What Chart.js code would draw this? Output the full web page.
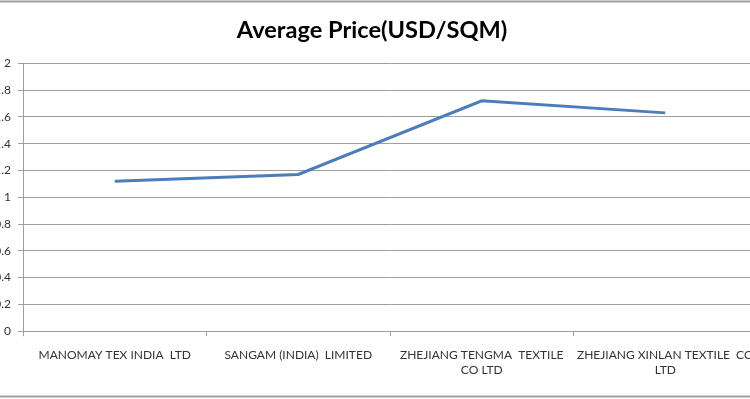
<!DOCTYPE html>
<html>
<head>
<meta charset="utf-8">
<script src="https://cdn.jsdelivr.net/npm/chart.js@4.4.0/dist/chart.umd.min.js"></script>
<style>
  html, body { margin: 0; padding: 0; background: #fff; overflow: hidden; }
  #wrap { position: absolute; left: -28px; top: 0; width: 800px; height: 399px; }
</style>
</head>
<body>
<div id="wrap"><canvas id="myChart"></canvas></div>
<script>
// values
const companies = [
    'MANOMAY TEX INDIA  LTD',
    'SANGAM (INDIA)  LIMITED',
    ['ZHEJIANG TENGMA  TEXTILE', 'CO LTD'],
    ['ZHEJIANG XINLAN TEXTILE  CO', 'LTD']
];
const avgPrice = [1.12, 1.17, 1.72, 1.63];
const chartTitle = 'Average Price(USD/SQM)';

const gridGray = '#9e9e9e';
const labelFont = { family: 'Lato', size: 12 };

// grey frame lines of the chart area (top and bottom border)
const frame = {
    id: 'frame',
    beforeDraw(chart) {
        const c = chart.ctx;
        c.save();
        c.fillStyle = '#fff';
        c.fillRect(0, 0, chart.width, chart.height);
        c.strokeStyle = '#a0a0a0';
        c.lineWidth = 2;
        c.beginPath();
        c.moveTo(0, 1.5); c.lineTo(chart.width, 1.5);
        c.moveTo(0, 396.5); c.lineTo(chart.width, 396.5);
        c.stroke();
        c.restore();
    }
};

let ctx = document.getElementById('myChart');
let myChart = new Chart(ctx, {
    type: 'line',
    data: {
        labels: companies,
        datasets: [{
            data: avgPrice,
            borderColor: '#4a7ebb',
            borderWidth: 3,
            pointRadius: 0,
            tension: 0,
            fill: false
        }]
    },
    options: {
        responsive: true,
        maintainAspectRatio: false,
        animation: false,
        layout: { padding: { left: 15, right: 15, top: 12, bottom: 10 } },
        plugins: {
            legend: { display: false },
            tooltip: { enabled: false },
            title: {
                display: true,
                text: chartTitle,
                color: '#000',
                font: { family: 'Lato', size: 23.6, weight: 'bold' },
                padding: { top: 4, bottom: 19 }
            }
        },
        scales: {
            x: {
                offset: true,
                grid: { offset: true, drawOnChartArea: false, drawTicks: true, tickLength: 5, color: gridGray },
                border: { color: gridGray },
                ticks: { color: '#333', font: labelFont, maxRotation: 0, autoSkip: false, padding: 12 }
            },
            y: {
                min: 0,
                max: 2,
                afterFit(scale) { scale.width = 36; },
                grid: { color: gridGray, tickLength: 5 },
                border: { color: gridGray },
                ticks: {
                    stepSize: 0.2,
                    color: '#333',
                    font: labelFont,
                    padding: 7,
                    callback: (v) => String(Number(v.toFixed(1)))
                }
            }
        }
    },
    plugins: [frame]
});
</script>
</body>
</html>
